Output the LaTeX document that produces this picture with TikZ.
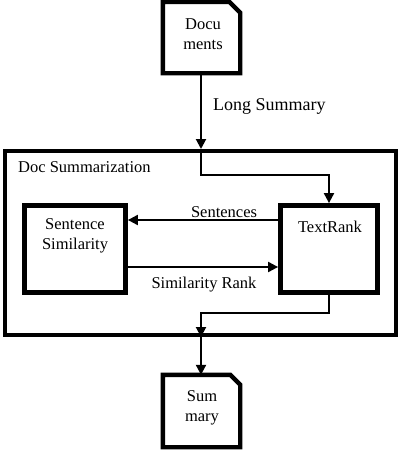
\documentclass[tikz,border=0pt]{standalone}
\usepackage{fontspec}
\setmainfont{Liberation Serif}
\usetikzlibrary{arrows.meta}
\begin{document}
\begin{tikzpicture}[x=1pt,y=-1pt,
  box/.style={draw, line width=4.8pt, inner sep=0pt},
  frame/.style={draw, line width=4pt, inner sep=0pt},
  ghost/.style={inner sep=0pt},
  conn/.style={line width=2pt, -{Triangle[length=10pt,width=10pt]}},
  lbl/.style={font=\fontsize{16.5}{20}\selectfont, inner sep=0pt},
  big/.style={font=\fontsize{18}{21}\selectfont, inner sep=0pt}]
\useasboundingbox (0,0) rectangle (401,451);

% Documents
\node[ghost, minimum width=77pt, minimum height=71pt] (docs) at (201.5,37.5) {};
\draw[line width=4.4pt, line join=miter] (docs.south west) -- (docs.north west) -- ([xshift=-11pt]docs.north east) -- ([yshift=-11pt]docs.north east) -- (docs.south east) -- cycle;
\node[lbl, align=center] (docst) at (203,34) {Docu\\ments};

% outer frame
\node[frame, minimum width=391pt, minimum height=184pt] (outer) at (200.5,243) {};
\node[lbl, anchor=west] (title) at (18,167) {Doc Summarization};

% inner boxes
\node[box, minimum width=101pt, minimum height=87pt] (ss) at (75,249) {};
\node[lbl, align=center] (sst) at (75,236) {Sentence\\Similarity};
\node[box, minimum width=97pt, minimum height=87pt] (tr) at (329,249) {};
\node[lbl] (trt) at (330,227) {TextRank};

% Summary
\node[ghost, minimum width=77pt, minimum height=72pt] (sum) at (201.5,411) {};
\draw[line width=4.4pt, line join=miter] (sum.south west) -- (sum.north west) -- ([xshift=-10pt]sum.north east) -- ([yshift=-10pt]sum.north east) -- (sum.south east) -- cycle;
\node[lbl, align=center] (sumt) at (202,407.5) {Sum\\mary};

% connectors
\coordinate (yturn) at (0,175);
\coordinate (ysent) at (0,220);
\coordinate (yrank) at (0,267);
\coordinate (ylow) at (0,313);
\coordinate (xin) at (201,0);

\draw[conn] (xin |- docs.south) -- (xin |- outer.north);
\node[big, anchor=west] (ls) at (213,106) {Long Summary};
\draw[conn] (xin |- outer.north) -- (xin |- yturn) -| (tr.north);

\draw[conn] (tr.west |- ysent) -- (ss.east |- ysent);
\node[lbl] (sentl) at (224,212) {Sentences};
\draw[conn] (ss.east |- yrank) -- (tr.west |- yrank);
\node[lbl] (rankl) at (204,285) {Similarity Rank};

\draw[conn] (tr.south) -- (tr.south |- ylow) -- (xin |- ylow) -- (xin |- outer.south);
\draw[conn] (xin |- outer.south) -- (xin |- sum.north);
\end{tikzpicture}
\end{document}
